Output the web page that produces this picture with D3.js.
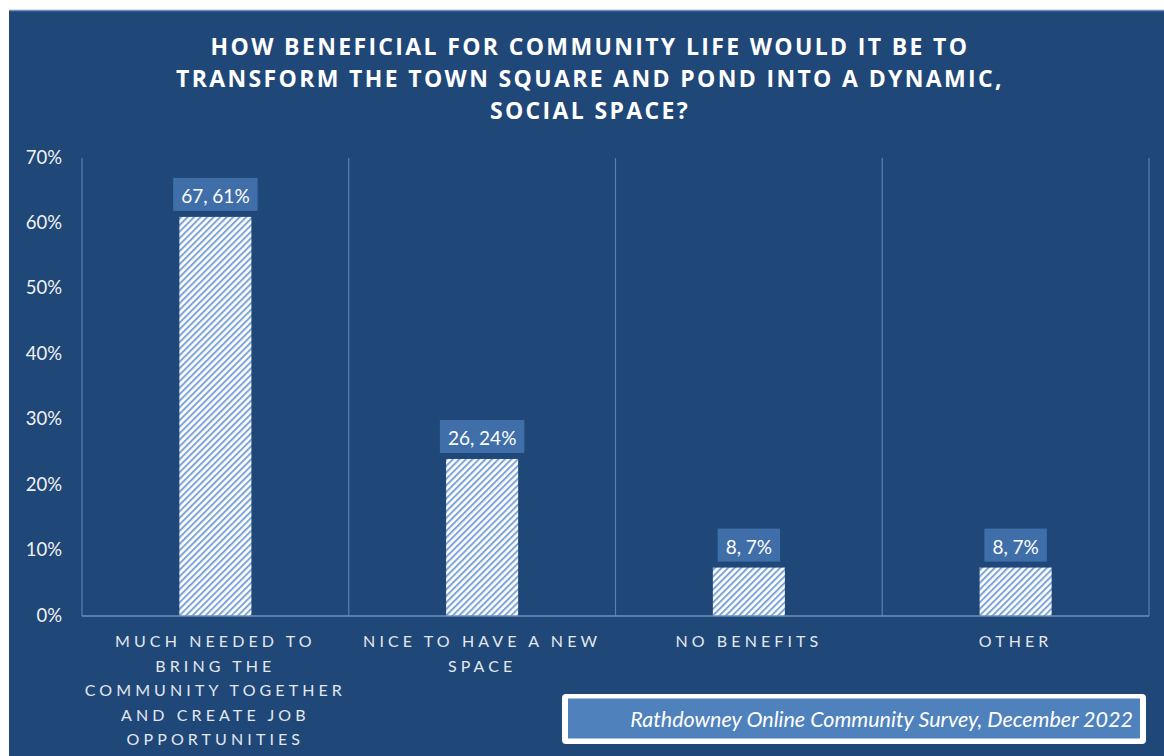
<!DOCTYPE html>
<html><head><meta charset="utf-8">
<script src="https://cdn.jsdelivr.net/npm/d3@7"></script>
<style>
html,body{margin:0;padding:0;background:#fff;}
svg{display:block;}
</style></head>
<body>
<svg id="c" width="1164" height="756"></svg>
<script>
const categories = [
  ["MUCH NEEDED TO", "BRING THE", "COMMUNITY TOGETHER", "AND CREATE JOB", "OPPORTUNITIES"],
  ["NICE TO HAVE A NEW", "SPACE"],
  ["NO BENEFITS"],
  ["OTHER"]
];
const counts = [67, 26, 8, 8];
const percents = [61, 24, 7.4, 7.4];
const percentLabels = ["61%", "24%", "7%", "7%"];
const yTicks = [0, 10, 20, 30, 40, 50, 60, 70];
const titleLines = [
  "HOW BENEFICIAL FOR COMMUNITY LIFE WOULD IT BE TO",
  "TRANSFORM THE TOWN SQUARE AND POND INTO A DYNAMIC,",
  "SOCIAL SPACE?"
];
const sourceText = "Rathdowney Online Community Survey, December 2022";

(function () {
const svg = d3.select("#c");
const font = "Lato, 'Open Sans', sans-serif";
const bg = "#1f4778";

svg.append("rect").attr("x", 9).attr("y", 10).attr("width", 1155).attr("height", 746).attr("fill", bg);
svg.append("line").attr("x1", 9).attr("x2", 1164).attr("y1", 10.5).attr("y2", 10.5).attr("stroke", "#6d8fbf").attr("stroke-width", 1.5);

const defs = svg.append("defs");
const pat = defs.append("pattern").attr("id", "hatch").attr("patternUnits", "userSpaceOnUse")
  .attr("width", 4.6).attr("height", 10).attr("patternTransform", "rotate(45)");
pat.append("rect").attr("width", 4.6).attr("height", 10).attr("fill", "#ffffff");
pat.append("rect").attr("width", 2.0).attr("height", 10).attr("fill", "#7ea5d8");

svg.append("g").selectAll("text").data(titleLines).join("text")
  .attr("x", 590).attr("y", (d, i) => 55 + i * 32)
  .attr("text-anchor", "middle")
  .attr("fill", "#ffffff").attr("font-family", "'Open Sans', sans-serif").attr("font-weight", 700)
  .attr("font-size", 23).attr("letter-spacing", 2.35)
  .text(d => d);

const pLeft = 82, pRight = 1149, pTop = 158, pBottom = 616;
const x = d3.scaleBand().domain(d3.range(categories.length)).range([pLeft, pRight]).paddingInner(0).paddingOuter(0);
const y = d3.scaleLinear().domain([0, 70]).range([pBottom, pTop]);

const bounds = d3.range(categories.length + 1).map(i => i < categories.length ? x(i) : x(categories.length - 1) + x.bandwidth());
svg.append("g").selectAll("line").data(bounds).join("line")
  .attr("x1", d => d).attr("x2", d => d).attr("y1", pTop).attr("y2", pBottom)
  .attr("stroke", "#5c7fae").attr("stroke-width", 1.2);

const yAxis = d3.axisLeft(y).tickValues(yTicks).tickFormat(d => d + "%").tickSize(0).tickPadding(20);
const ya = svg.append("g").attr("transform", `translate(${pLeft},0)`).call(yAxis);
ya.select(".domain").remove();
ya.selectAll("text").attr("fill", "#f2f2f2").attr("font-family", font).attr("font-size", 18.5).attr("dy", "0.27em");

const bw = x.bandwidth() * 0.27;
svg.append("g").selectAll("rect").data(percents).join("rect")
  .attr("x", (d, i) => x(i) + x.bandwidth() / 2 - bw / 2)
  .attr("y", d => y(d)).attr("width", bw).attr("height", d => pBottom - y(d))
  .attr("fill", "url(#hatch)");

svg.append("line").attr("x1", pLeft).attr("x2", pRight).attr("y1", pBottom).attr("y2", pBottom)
  .attr("stroke", "#6f90be").attr("stroke-width", 1.5);

const lg = svg.append("g");
percents.forEach((p, i) => {
  const cx = x(i) + x.bandwidth() / 2;
  const txt = counts[i] + ", " + percentLabels[i];
  const boxB = y(p) - 6, boxH = 33;
  const t = lg.append("text").attr("x", cx).attr("y", boxB - boxH / 2 + 1)
    .attr("text-anchor", "middle").attr("dominant-baseline", "central")
    .attr("fill", "#ffffff").attr("font-family", font).attr("font-size", 19).text(txt);
  const w = t.node().getComputedTextLength() + 16;
  lg.insert("rect", "text").attr("x", cx - w / 2).attr("y", boxB - boxH).attr("width", w).attr("height", boxH)
    .attr("fill", "#3f6ea9");
});

const cg = svg.append("g");
categories.forEach((lines, i) => {
  const cx = x(i) + x.bandwidth() / 2;
  cg.append("g").selectAll("text").data(lines).join("text")
    .attr("x", cx).attr("y", (d, j) => 647 + j * 24.6)
    .attr("text-anchor", "middle").attr("fill", "#e3e7ee")
    .attr("font-family", font).attr("font-size", 16).attr("letter-spacing", 4.1)
    .text(d => d);
});

svg.append("rect").attr("x", 562).attr("y", 694).attr("width", 584).attr("height", 50).attr("rx", 4)
  .attr("fill", "#ffffff");
svg.append("rect").attr("x", 568).attr("y", 698.5).attr("width", 572).attr("height", 40)
  .attr("fill", "#4f81bd");
svg.append("text").attr("x", 1133).attr("y", 719).attr("text-anchor", "end").attr("dominant-baseline", "central")
  .attr("fill", "#ffffff").attr("font-family", font).attr("font-style", "italic").attr("font-size", 21.5)
  .text(sourceText);
})();
</script>
</body></html>
